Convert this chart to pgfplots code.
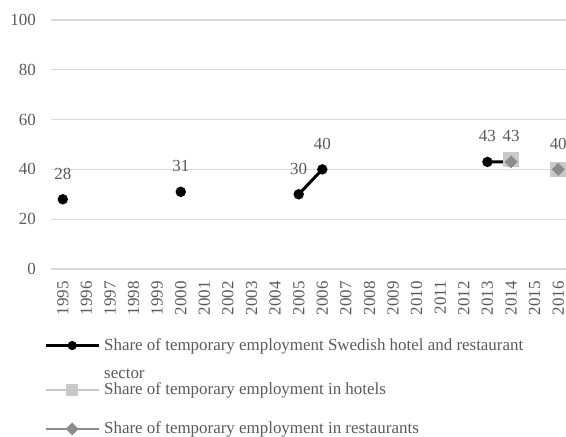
\documentclass[border=0pt]{standalone}
\usepackage{fontspec}
\setmainfont{Liberation Serif}
\usepackage{pgfplots}
\pgfplotsset{compat=1.18}
\definecolor{txt}{HTML}{595959}
\definecolor{gridc}{HTML}{D9D9D9}
\definecolor{hot}{HTML}{C9C9C9}
\definecolor{res}{HTML}{8C8C8C}
\newcommand{\fs}{\fontsize{17}{20}\selectfont}
\begin{document}
\begin{tikzpicture}[x=1bp,y=1bp]
\path[use as bounding box] (0,0) rectangle (566,437);
\begin{axis}[
  at={(51bp,168bp)}, anchor=south west,
  scale only axis, width=519bp, height=249bp,
  xmin=-0.5, xmax=21.5, ymin=0, ymax=100,
  axis line style={draw=none}, tick style={draw=none},
  ytick={0,20,...,100}, ymajorgrids, grid style={gridc, line width=1.2bp},
  xtick={0,...,21},
  xticklabels={1995,1996,1997,1998,1999,2000,2001,2002,2003,2004,2005,2006,2007,2008,2009,2010,2011,2012,2013,2014,2015,2016},
  tick label style={font=\fs, text=txt},
  x tick label style={rotate=90, anchor=east, inner sep=0pt, xshift=-12bp},
  y tick label style={inner sep=0pt, xshift=-15bp},
  /pgf/number format/assume math mode=true,
  unbounded coords=jump,
  legend style={at={(axis description cs:-0.0135,-0.261)}, anchor=north west, draw=none, fill=none,
    font=\fs, text=txt, cells={anchor=base west, align=left, inner sep=0pt}, row sep=-3bp, column sep=2bp, inner sep=0pt},
  legend image code/.code={\draw[mark repeat=2,mark phase=2] plot coordinates {(0bp,4.5bp) (26.5bp,4.5bp) (53bp,4.5bp)};},
  every node near coord/.append style={font=\fs, text=txt, anchor=base, inner sep=0pt, yshift=20bp},
]
\addplot[black, line width=3bp, mark=*, mark size=3.6bp, nodes near coords,
  mark options={solid},
  legend image code/.code={\draw[mark repeat=2,mark phase=2,mark size=3bp] plot coordinates {(0bp,32.5bp) (26.5bp,32.5bp) (53bp,32.5bp)};}]
  coordinates {(0,28) (1,nan) (5,31) (6,nan) (10,30) (11,40) (12,nan) (18,43) (19,43)};
\addlegendentry{Share of temporary employment Swedish hotel and restaurant\strut\\[8bp]sector\strut}
\addplot[hot, line width=2.5bp, mark=square*, mark size=6.5bp,
  legend image code/.code={\draw[mark repeat=2,mark phase=2,mark size=5bp] plot coordinates {(0bp,4.5bp) (26.5bp,4.5bp) (53bp,4.5bp)};}]
  coordinates {(19,44) (20,nan) (21,40)};
\addlegendentry{Share of temporary employment in hotels\strut}
\addlegendimage{empty legend}
\addlegendentry{\rule{0pt}{20bp}}
\addplot[res, line width=2.5bp, mark=square*, mark size=3.3bp, mark options={rotate=45}, nodes near coords, point meta=explicit symbolic] coordinates {(19,43) [] (20,nan) [] (21,40) [40]};
\addlegendentry{Share of temporary employment in restaurants\strut}
\end{axis}
\end{tikzpicture}
\end{document}
